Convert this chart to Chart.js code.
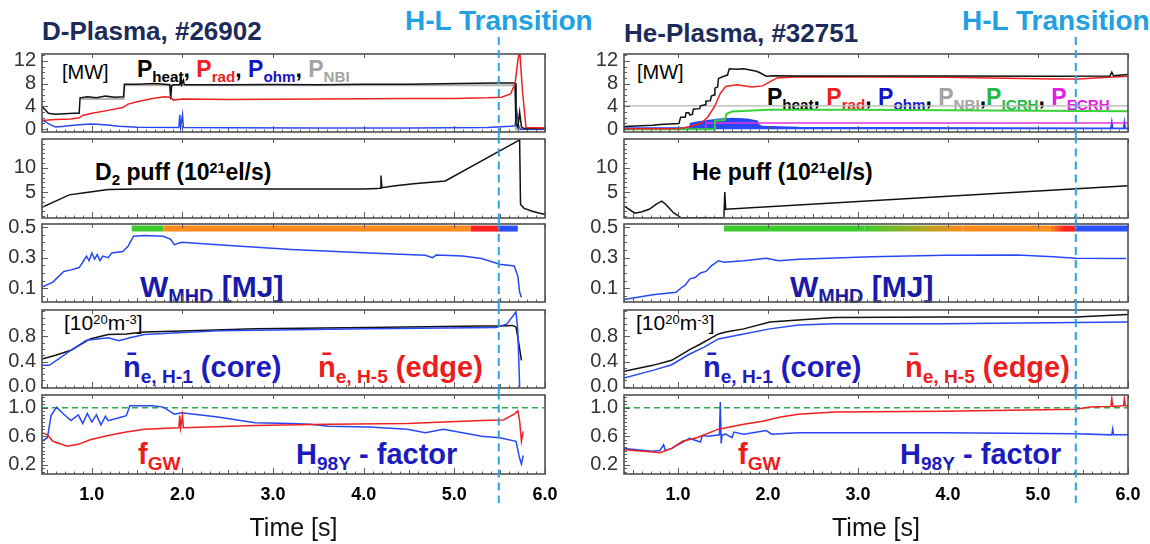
<!DOCTYPE html>
<html>
<head>
<meta charset="utf-8">
<script src="https://cdn.jsdelivr.net/npm/chart.js@4.4.1/dist/chart.umd.min.js"></script>
<style>
  body { margin: 0; background: #fff; width: 1150px; height: 544px; position: relative; overflow: hidden; }
  canvas { position: absolute; }
  .t { position: absolute; white-space: nowrap; line-height: 1; font-family: Arial, "Liberation Sans", sans-serif; }
  .b { font-weight: bold; }
  .sb { font-size: 0.66em; position: relative; top: 0.3em; }
  .sp { font-size: 0.62em; position: relative; top: -0.5em; }
  .title { font-size: 26px; font-weight: bold; color: #1c2b5a; }
  .hl { font-size: 28px; font-weight: bold; color: #22a0e2; }
</style>
</head>
<body>
<div class="t title" style="left:42px;top:18px">D-Plasma, #26902</div>
<div class="t hl" style="left:405px;top:7px">H-L Transition</div>
<div class="t title" style="left:624px;top:20px">He-Plasma, #32751</div>
<div class="t hl" style="left:962px;top:7px">H-L Transition</div>

<!-- left column notes -->
<div class="t" style="left:62px;top:62px;font-size:20px">[MW]</div>
<div class="t b" style="left:137px;top:58px;font-size:23px">P<span class="sb">heat</span>, <span style="color:#f01e1e">P<span class="sb">rad</span></span>, <span style="color:#1414c8">P<span class="sb">ohm</span></span>, <span style="color:#a3a3a3">P<span class="sb">NBI</span></span></div>
<div class="t b" style="left:95px;top:161px;font-size:23px">D<span class="sb">2</span> puff (10<span class="sp">21</span>el/s)</div>
<div class="t b" style="left:140px;top:272px;font-size:30px;color:#1a1aa8">W<span class="sb">MHD</span> [MJ]</div>
<div class="t" style="left:64px;top:312px;font-size:21px">[10<span class="sp">20</span>m<span class="sp">-3</span>]</div>
<div class="t b" style="left:123px;top:353px;font-size:29px;color:#1c1cbe">n&#772;<span class="sb">e, H-1</span> (core)</div>
<div class="t b" style="left:318px;top:353px;font-size:29px;color:#ee1c1c">n&#772;<span class="sb">e, H-5</span> (edge)</div>
<div class="t b" style="left:138px;top:440px;font-size:29px;color:#ee1c1c">f<span class="sb">GW</span></div>
<div class="t b" style="left:296px;top:440px;font-size:29px;color:#1c1cbe">H<span class="sb">98Y</span> - factor</div>

<!-- right column notes -->
<div class="t" style="left:637px;top:62px;font-size:20px">[MW]</div>
<div class="t b" style="left:767px;top:86px;font-size:23px">P<span class="sb">heat</span>, <span style="color:#f01e1e">P<span class="sb">rad</span></span>, <span style="color:#1414c8">P<span class="sb">ohm</span></span>, <span style="color:#a3a3a3">P<span class="sb">NBI</span></span>,<span style="color:#26b845">P<span class="sb">ICRH</span></span>, <span style="color:#e61ee6">P<span class="sb">ECRH</span></span></div>
<div class="t b" style="left:692px;top:161px;font-size:23px">He puff (10<span class="sp">21</span>el/s)</div>
<div class="t b" style="left:790px;top:272px;font-size:30px;color:#1a1aa8">W<span class="sb">MHD</span> [MJ]</div>
<div class="t" style="left:636px;top:312px;font-size:21px">[10<span class="sp">20</span>m<span class="sp">-3</span>]</div>
<div class="t b" style="left:703px;top:353px;font-size:29px;color:#1c1cbe">n&#772;<span class="sb">e, H-1</span> (core)</div>
<div class="t b" style="left:905px;top:353px;font-size:29px;color:#ee1c1c">n&#772;<span class="sb">e, H-5</span> (edge)</div>
<div class="t b" style="left:738px;top:440px;font-size:29px;color:#ee1c1c">f<span class="sb">GW</span></div>
<div class="t b" style="left:900px;top:440px;font-size:29px;color:#1c1cbe">H<span class="sb">98Y</span> - factor</div>

<script>
// time ticks shared by both columns
const timeTicks = [1, 2, 3, 4, 5, 6];

// ---- D-plasma #26902 (left) : [time s, value] ----
const hlLeft = 5.49;
const pHeatL = [[0.45,3.9],[0.48,3.5],[0.52,2.8],[0.6,2.6],[0.7,2.7],[0.8,2.8],[0.86,2.8],[0.87,5.5],[0.95,5.7],[1.05,5.5],[1.15,5.8],[1.25,5.6],[1.35,5.7],[1.36,7.9],[1.5,7.9],[1.7,8.0],[1.86,7.8],[1.87,5.2],[1.88,7.6],[1.9,7.8],[1.97,7.8],[1.98,9.0],[1.99,7.8],[2.01,8.6],[2.02,7.8],[2.5,7.8],[3.0,7.85],[3.5,7.8],[4.0,7.9],[4.5,7.9],[5.05,8.0],[5.47,8.1],[5.67,8.1],[5.68,1.0],[5.70,0.3],[5.72,3.0],[5.74,0.4],[5.77,0.1],[6.0,0.1]];
const pNbiL = [[0.87,5.3],[1.35,5.3],[1.36,7.7],[5.67,7.7],[5.68,0],[6.0,0]];
const pRadL = [[0.45,1.5],[0.6,1.7],[0.77,1.8],[0.86,2.0],[0.9,2.4],[1.0,2.8],[1.18,3.3],[1.34,3.8],[1.4,4.4],[1.5,4.8],[1.67,5.4],[1.8,5.7],[1.87,5.6],[1.9,5.1],[2.0,5.3],[2.5,5.2],[3.0,5.25],[3.5,5.3],[4.0,5.35],[4.5,5.4],[5.0,5.4],[5.37,5.5],[5.52,5.6],[5.62,6.2],[5.67,8.0],[5.70,12],[5.72,14],[5.75,7],[5.79,0.3],[6.0,0.2]];
const pOhmL = [[0.45,1.6],[0.5,1.2],[0.55,0.7],[0.6,0.4],[0.7,0.5],[0.8,0.7],[0.9,0.8],[1.0,0.9],[1.1,0.8],[1.2,0.7],[1.3,0.5],[1.5,0.35],[1.96,0.3],[1.97,2.5],[1.98,0.3],[2.0,2.5],[2.01,0.3],[2.5,0.25],[3.5,0.2],[4.5,0.2],[5.37,0.3],[5.62,0.5],[5.67,0.6],[5.69,3.0],[5.71,0.5],[5.73,0],[6.0,0]];
const puffL = [[0.45,1.8],[0.6,3.1],[0.75,4.4],[0.9,4.8],[1.18,5.5],[1.5,5.6],[2.0,5.6],[3.0,5.6],[4.0,5.6],[4.15,5.7],[4.18,5.8],[4.19,8.4],[4.2,5.9],[4.35,6.3],[4.55,6.7],[4.9,7.3],[5.72,15.8],[5.73,2.4],[5.77,1.6],[5.86,1.0],[5.94,0.6],[6.0,0.4]];
const wmhdL = [[0.45,0.107],[0.57,0.14],[0.69,0.21],[0.77,0.22],[0.86,0.235],[0.9,0.27],[0.94,0.31],[0.97,0.28],[1.0,0.33],[1.03,0.29],[1.06,0.32],[1.09,0.28],[1.12,0.31],[1.18,0.30],[1.22,0.33],[1.34,0.34],[1.4,0.375],[1.46,0.44],[1.58,0.445],[1.79,0.44],[1.87,0.42],[1.91,0.385],[1.99,0.40],[2.39,0.385],[3.2,0.354],[4.06,0.33],[4.68,0.315],[4.76,0.30],[4.80,0.317],[5.09,0.31],[5.3,0.295],[5.5,0.257],[5.66,0.246],[5.70,0.18],[5.72,0.075],[5.74,0.04]];
const phaseL = [[1.44,0.49],[1.79,0.49],[5.18,0.49],[5.49,0.49],[5.70,0.49]];
const phaseColL = ['#3ccc2c', '#ff8c1a', '#ff2020', '#2a50ff'];
const neEdgeL = [[0.45,0.44],[0.6,0.5],[0.77,0.58],[0.98,0.76],[1.18,0.83],[1.38,0.84],[1.58,0.87],[1.99,0.885],[2.8,0.92],[4.06,0.94],[5.3,0.965],[5.5,0.965],[5.64,0.975],[5.68,0.95],[5.70,0.79],[5.74,0.42]];
const neCoreL = [[0.45,0.34],[0.53,0.34],[0.61,0.42],[0.77,0.58],[0.94,0.74],[1.18,0.78],[1.30,0.73],[1.42,0.78],[1.58,0.83],[2.39,0.89],[4.06,0.92],[5.46,0.94],[5.58,1.0],[5.68,1.19],[5.70,0.9],[5.72,0.0]];
const h98L = [[0.45,0.53],[0.51,0.58],[0.55,0.89],[0.61,1.01],[0.69,0.91],[0.77,0.82],[0.85,0.9],[0.9,0.78],[0.95,0.92],[1.0,0.8],[1.05,0.9],[1.1,0.76],[1.15,0.88],[1.18,0.82],[1.3,0.86],[1.38,0.89],[1.42,1.03],[1.67,1.03],[1.79,1.01],[1.91,0.91],[1.99,0.93],[2.39,0.87],[2.8,0.79],[3.2,0.78],[3.41,0.77],[3.61,0.74],[4.06,0.73],[4.48,0.70],[4.68,0.65],[4.88,0.70],[5.09,0.65],[5.3,0.60],[5.5,0.58],[5.68,0.53],[5.72,0.29],[5.74,0.21],[5.76,0.33]];
const fgwL = [[0.45,0.65],[0.51,0.62],[0.57,0.53],[0.73,0.46],[0.86,0.49],[0.98,0.55],[1.18,0.61],[1.38,0.66],[1.58,0.70],[1.96,0.72],[1.97,0.89],[1.98,0.72],[2.0,0.89],[2.01,0.72],[2.8,0.75],[3.61,0.77],[4.48,0.78],[5.3,0.82],[5.54,0.83],[5.66,0.91],[5.70,0.96],[5.72,0.82],[5.74,0.53],[5.76,0.67]];

// ---- He-plasma #32751 (right) ----
const hlRight = 5.42;
const pHeatR = [[0.4,0.45],[0.72,0.7],[0.8,0.8],[1.01,1.0],[1.03,2.1],[1.08,2.1],[1.09,2.9],[1.12,2.9],[1.13,2.5],[1.16,2.6],[1.17,3.5],[1.24,3.6],[1.25,4.1],[1.3,4.3],[1.31,4.9],[1.36,5.0],[1.37,5.8],[1.4,6.0],[1.41,7.2],[1.44,7.4],[1.45,8.9],[1.51,9.3],[1.55,9.5],[1.57,10.6],[1.65,10.5],[1.73,10.6],[1.86,10.2],[1.90,10.0],[1.98,9.3],[2.06,9.4],[2.34,9.35],[3.96,9.35],[5.17,9.3],[5.8,9.35],[5.82,10.0],[5.84,9.4],[6.0,9.6]];
const pRadR = [[0.4,0.05],[1.01,0.05],[1.13,0.45],[1.25,1.0],[1.33,2.1],[1.41,4.1],[1.47,6.3],[1.53,7.5],[1.65,7.8],[1.82,7.4],[1.94,7.6],[2.02,8.3],[2.10,9.0],[2.34,9.2],[3.96,9.1],[5.17,8.8],[5.45,8.8],[5.78,9.1],[6.0,9.3]];
const pOhmR = [[0.4,0.2],[1.13,0.25],[1.14,1.0],[1.21,1.2],[1.29,1.4],[1.45,1.75],[1.61,1.85],[1.77,1.75],[1.88,1.4],[1.90,0.7],[1.94,0.45],[2.34,0.28],[5.81,0.17],[5.82,1.3],[5.83,0.17],[5.95,0.17],[5.96,1.3],[5.97,0.17],[6.0,0.17]];
const pNbiR = [[0.4,4.1],[6.0,4.1]];
const pIcrhR = [[0.4,0],[1.40,0],[1.41,1.5],[1.52,1.6],[1.54,2.7],[1.6,3.1],[2.0,3.4],[3.0,3.4],[6.0,3.15]];
const pEcrhR = [[1.31,0],[1.31,1.1],[6.0,1.1]];
const puffR = [[0.4,2.1],[0.52,0.6],[0.60,0.9],[0.68,1.4],[0.76,2.5],[0.82,3.1],[0.86,2.5],[0.95,0.7],[1.03,-0.3],[1.51,-0.35],[1.52,5.0],[1.53,1.4],[6.0,6.3]];
const wmhdR = [[0.4,0.027],[0.72,0.057],[0.98,0.074],[1.03,0.10],[1.08,0.12],[1.13,0.16],[1.19,0.17],[1.25,0.20],[1.31,0.21],[1.37,0.246],[1.45,0.28],[1.51,0.27],[1.73,0.28],[1.98,0.296],[2.12,0.28],[2.34,0.29],[3.15,0.306],[3.96,0.315],[4.77,0.317],[5.17,0.306],[5.42,0.296],[5.98,0.294]];
const phaseR = [[1.51,0.49],[3.07,0.49],[4.16,0.49],[5.13,0.49],[5.3,0.49],[5.42,0.49],[6.0,0.49]];
const phaseColR = [['#3ccc2c','#3ccc2c'], ['#3ccc2c','#ff8c1a'], ['#ff8c1a','#ff8c1a'], ['#ff8c1a','#ff2020'], ['#ff2020','#ff2020'], ['#2a50ff','#2a50ff']];
const neEdgeR = [[0.4,0.245],[0.72,0.34],[0.93,0.42],[1.13,0.59],[1.25,0.68],[1.45,0.84],[1.53,0.87],[1.73,0.92],[2.02,1.03],[2.34,1.06],[2.74,1.10],[3.96,1.11],[5.42,1.11],[6.0,1.15]];
const neCoreR = [[0.4,0.14],[0.72,0.26],[0.93,0.35],[1.13,0.52],[1.29,0.63],[1.45,0.76],[1.73,0.84],[2.02,0.92],[2.34,0.98],[2.74,1.0],[3.96,1.0],[6.0,1.03]];
const fgwR = [[0.4,0.41],[0.72,0.38],[0.80,0.37],[0.93,0.43],[1.05,0.53],[1.21,0.58],[1.45,0.70],[1.73,0.77],[1.94,0.81],[2.14,0.87],[2.34,0.91],[2.74,0.94],[3.96,0.95],[5.42,0.98],[5.58,1.01],[5.81,1.02],[5.82,1.13],[5.83,1.02],[5.95,1.03],[5.96,1.13],[5.97,1.03],[6.0,1.03]];
const h98R = [[0.4,0.43],[0.72,0.39],[0.80,0.40],[0.84,0.48],[0.86,0.40],[0.93,0.43],[1.13,0.57],[1.25,0.52],[1.27,0.61],[1.33,0.60],[1.46,0.62],[1.47,1.08],[1.48,0.50],[1.49,0.62],[1.53,0.63],[1.6,0.58],[1.62,0.66],[1.73,0.63],[1.98,0.68],[2.04,0.63],[2.34,0.65],[3.96,0.65],[5.42,0.635],[5.82,0.62],[5.83,0.70],[5.84,0.62],[6.0,0.62]];
const gwLimit = 1.0;

// ---- layout ----
const FONT = 'Arial, "Liberation Sans", sans-serif';
const cols = {
  L: { left: 42, width: 503, xMin: 0.45, hl: hlLeft },
  R: { left: 624, width: 504, xMin: 0.4, hl: hlRight }
};
const rows = [
  { top: 54, bottom: 132, min: -0.5, max: 13.2, ticks: [0, 4, 8, 12], dec: 0, minor: 1 },
  { top: 139, bottom: 218, min: -0.4, max: 16, ticks: [5, 10], dec: 0, minor: 1 },
  { top: 224, bottom: 302, min: 0.01, max: 0.52, ticks: [0.1, 0.3, 0.5], dec: 1, minor: 0.05 },
  { top: 310, bottom: 388, min: -0.02, max: 1.22, ticks: [0.0, 0.4, 0.8], dec: 1, minor: 0.1 },
  { top: 395, bottom: 474, min: 0.07, max: 1.18, ticks: [0.2, 0.6, 1.0], dec: 1, minor: 0.05 }
];
// how far the H-L marker runs above / below each panel box
const hlExt = [[17, 3.5], [3.5, 3], [3, 4], [4, 3.5], [3.5, 29]];

const pts = arr => arr.map(p => ({ x: p[0], y: p[1] }));
const line = (arr, color, extra) => Object.assign({ data: pts(arr), borderColor: color, borderWidth: 1.5 }, extra || {});

// frame, inward minor ticks and the H-L marker
const panelDeco = {
  id: 'panelDeco',
  afterDatasetsDraw(chart, args, o) {
    const { ctx, chartArea: a, scales: { x, y } } = chart;
    ctx.save();
    ctx.strokeStyle = '#5c5c5c';
    ctx.lineWidth = 1;
    const k0 = Math.ceil(y.min / o.minor - 1e-6), k1 = Math.floor(y.max / o.minor + 1e-6);
    for (let k = k0; k <= k1; k++) {
      const v = k * o.minor;
      const major = o.ticks.some(t => Math.abs(t - v) < 1e-6);
      const py = Math.round(y.getPixelForValue(v)) + 0.5;
      ctx.beginPath(); ctx.moveTo(a.left, py); ctx.lineTo(a.left + (major ? 6 : 3), py); ctx.stroke();
    }
    for (let k = Math.ceil(x.min * 10); k <= Math.floor(x.max * 10); k++) {
      const px = Math.round(x.getPixelForValue(k / 10)) + 0.5;
      const len = k % 10 === 0 ? 6 : (k % 5 === 0 ? 4 : 2.5);
      ctx.beginPath(); ctx.moveTo(px, a.bottom); ctx.lineTo(px, a.bottom - len); ctx.stroke();
      if (k % 10 === 0) { ctx.beginPath(); ctx.moveTo(px, a.top); ctx.lineTo(px, a.top + 4); ctx.stroke(); }
    }
    ctx.lineWidth = 1.6;
    ctx.strokeStyle = '#505050';
    ctx.strokeRect(a.left, a.top, a.right - a.left, a.bottom - a.top);
    const hx = x.getPixelForValue(o.hl);
    ctx.setLineDash([8, 5]);
    ctx.strokeStyle = '#27a4e4';
    ctx.lineWidth = 2;
    ctx.beginPath(); ctx.moveTo(hx, a.top - o.ext[0]); ctx.lineTo(hx, a.bottom + o.ext[1]); ctx.stroke();
    ctx.restore();
  }
};

function panel(colKey, ri, datasets) {
  const c = cols[colKey], r = rows[ri], last = ri === 4;
  const yW = 42, padR = 26, padT = ri === 0 ? 22 : 18, padB = last ? 0 : 18, xH = last ? 70 : 0;
  const w = yW + c.width + padR, h = padT + (r.bottom - r.top) + xH + padB;
  const cv = document.createElement('canvas');
  cv.width = w; cv.height = h;
  cv.style.left = (c.left - yW) + 'px';
  cv.style.top = (r.top - padT) + 'px';
  cv.style.width = w + 'px'; cv.style.height = h + 'px';
  document.body.appendChild(cv);
  new Chart(cv, {
    type: 'line',
    data: { datasets },
    options: {
      responsive: false, animation: false, events: [],
      layout: { padding: { top: padT, bottom: padB, left: 0, right: padR } },
      elements: { point: { radius: 0 }, line: { tension: 0 } },
      plugins: {
        legend: { display: false }, tooltip: { enabled: false },
        panelDeco: { hl: c.hl, ext: hlExt[ri], minor: r.minor, ticks: r.ticks }
      },
      scales: {
        x: {
          type: 'linear', min: c.xMin, max: 6, display: last,
          afterBuildTicks: s => { s.ticks = timeTicks.map(v => ({ value: v })); },
          afterFit: s => { s.height = xH; },
          grid: { display: false, drawTicks: false }, border: { display: false },
          ticks: { autoSkip: false, padding: 10, color: '#000', maxRotation: 0, font: { family: FONT, size: 18, weight: 'bold' }, callback: v => v.toFixed(1) },
          title: { display: true, text: 'Time [s]', color: '#111', padding: 0, font: { family: FONT, size: 25 } }
        },
        y: {
          type: 'linear', min: r.min, max: r.max,
          afterBuildTicks: s => { s.ticks = r.ticks.map(v => ({ value: v })); },
          afterFit: s => { s.width = yW; },
          grid: { display: false, drawTicks: false }, border: { display: false },
          ticks: { autoSkip: false, padding: 6, color: '#333', font: { family: FONT, size: 20 }, callback: v => v.toFixed(r.dec) }
        }
      }
    },
    plugins: [panelDeco]
  });
}

const BLACK = '#111', RED = '#f02020', BLUE = '#2848f5', GRAY = '#b4b4b4', GREEN = '#3ad03a', MAG = '#e030e0';
const gwLine = c => line([[cols[c].xMin, gwLimit], [6, gwLimit]], '#2fa84f', { borderDash: [6, 4], borderWidth: 1.5 });

// left column
panel('L', 0, [line(pRadL, RED), line(pHeatL, BLACK), line(pOhmL, BLUE), line(pNbiL, GRAY, { borderWidth: 2 })]);
panel('L', 1, [line(puffL, BLACK)]);
panel('L', 2, [
  line(phaseL, '#000', { borderWidth: 6, borderCapStyle: 'butt', segment: { borderColor: s => phaseColL[s.p0DataIndex] } }),
  line(wmhdL, BLUE)
]);
panel('L', 3, [line(neCoreL, BLUE), line(neEdgeL, BLACK)]);
panel('L', 4, [line(fgwL, RED), line(h98L, BLUE), gwLine('L')]);

// right column
const gradSeg = s => {
  const pair = phaseColR[s.p0DataIndex];
  if (pair[0] === pair[1]) return pair[0];
  const g = s.chart.ctx.createLinearGradient(s.p0.x, 0, s.p1.x, 0);
  g.addColorStop(0, pair[0]); g.addColorStop(1, pair[1]);
  return g;
};
panel('R', 0, [line(pHeatR, BLACK), line(pRadR, RED), line(pIcrhR, GREEN, { borderWidth: 2 }), line(pEcrhR, MAG),
  line(pOhmR, BLUE, { fill: 'origin', backgroundColor: BLUE }), line(pNbiR, GRAY, { borderWidth: 1.2 })]);
panel('R', 1, [line(puffR, BLACK)]);
panel('R', 2, [
  line(phaseR, '#000', { borderWidth: 6, borderCapStyle: 'butt', segment: { borderColor: gradSeg } }),
  line(wmhdR, BLUE)
]);
panel('R', 3, [line(neCoreR, BLUE), line(neEdgeR, BLACK)]);
panel('R', 4, [line(fgwR, RED), line(h98R, BLUE), gwLine('R')]);
</script>
</body>
</html>
